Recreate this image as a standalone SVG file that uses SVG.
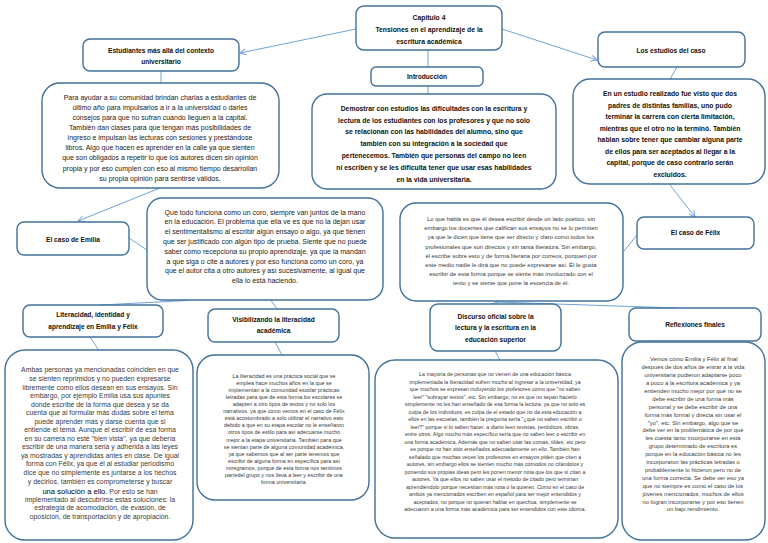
<svg xmlns="http://www.w3.org/2000/svg" width="768" height="543" viewBox="0 0 768 543">
<style>
.box{fill:#ffffff;stroke:#41719c;stroke-width:1.4}
.con{fill:none;stroke:#6fa3d8;stroke-width:1}
text{font-family:"Liberation Sans",Arial,sans-serif;text-anchor:middle}
.h{font-weight:bold;font-size:6.6px;fill:#111}
.hb{font-weight:bold;font-size:6.8px;fill:#111}
.t7{font-size:7px;fill:#1a1a1a}
.tg{font-size:5.9px;fill:#3a3a3a}
.ta{font-size:6.9px;fill:#3a3a3a}
.tl{font-size:5.4px;fill:#3a3a3a}
.tm{font-size:5.3px;fill:#3a3a3a}
.tv{font-size:5.8px;fill:#3a3a3a}
</style>
<defs>
<marker id="arr" markerWidth="8" markerHeight="8" refX="7" refY="4" orient="auto" markerUnits="userSpaceOnUse">
<path d="M1,1 L7,4 L1,7" fill="none" stroke="#6fa3d8" stroke-width="1"/>
</marker>
</defs>
<rect width="768" height="543" fill="#ffffff"/>
<g id="connectors">
<line class="con" x1="356" y1="29" x2="240" y2="53" marker-end="url(#arr)"/>
<line class="con" x1="502" y1="29" x2="597" y2="60" marker-end="url(#arr)"/>
<line class="con" x1="428" y1="50" x2="428" y2="67"/>
<line class="con" x1="428" y1="86" x2="428" y2="94"/>
<line class="con" x1="161" y1="71" x2="161" y2="83"/>
<line class="con" x1="160" y1="188" x2="78" y2="221" marker-end="url(#arr)"/>
<line class="con" x1="129" y1="238" x2="147" y2="250"/>
<line class="con" x1="187" y1="300.5" x2="100" y2="305"/>
<line class="con" x1="270" y1="299" x2="277" y2="309"/>
<line class="con" x1="90" y1="337" x2="100" y2="352"/>
<line class="con" x1="275" y1="342" x2="282" y2="355"/>
<line class="con" x1="495" y1="351" x2="500" y2="360"/>
<line class="con" x1="677" y1="67" x2="670" y2="79"/>
<line class="con" x1="670" y1="185" x2="695" y2="217" marker-end="url(#arr)"/>
<line class="con" x1="637" y1="235" x2="624" y2="251"/>
<line class="con" x1="500" y1="301" x2="492" y2="304"/>
<line class="con" x1="495" y1="302" x2="678" y2="308"/>
</g>
<g id="capitulo">
<rect class="box" x="356" y="6" width="146" height="44" rx="8"/>
<text class="hb" x="429" y="19.5">Capitulo 4</text>
<text class="hb" x="429" y="31.5">Tensiones en el aprendizaje de la</text>
<text class="hb" x="429" y="43.5">escritura académica</text>
</g>
<g id="estudiantes">
<rect class="box" x="83" y="39" width="156" height="32" rx="7"/>
<text class="h" x="161" y="53">Estudiantes más allá del contexto</text>
<text class="h" x="161" y="64">universitario</text>
</g>
<g id="introduccion">
<rect class="box" x="371" y="67" width="112" height="19" rx="5"/>
<text class="h" x="427" y="79">Introducción</text>
</g>
<g id="estudios-caso">
<rect class="box" x="598" y="32" width="147" height="35" rx="7"/>
<text class="h" x="671" y="52.5">Los estudios del caso</text>
</g>
<g id="para-ayudar">
<rect class="box" x="42" y="83" width="237" height="105" rx="18"/>
<text class="t7" x="160" y="99.8">Para ayudar a su comunidad brindan charlas a estudiantes de</text>
<text class="t7" x="160" y="109.9">último año para impulsarlos a ir a la universidad o darles</text>
<text class="t7" x="160" y="120">consejos para que no sufran cuando lleguen a la capital.</text>
<text class="t7" x="160" y="130.1">También dan clases para que tengan más posibilidades de</text>
<text class="t7" x="160" y="140.2">ingreso e impulsan las lecturas con sesiones y prestándose</text>
<text class="t7" x="160" y="150.3">libros. Algo que hacen es aprender en la calle ya que sienten</text>
<text class="t7" x="160" y="160.4">que son obligados a repetir lo que los autores dicen sin opinión</text>
<text class="t7" x="160" y="170.5">propia y por eso cumplen con eso al mismo tiempo desarrollan</text>
<text class="t7" x="160" y="180.6">su propia opinión para sentirse válidos.</text>
</g>
<g id="demostrar">
<rect class="box" x="312" y="94" width="244" height="95" rx="15"/>
<text class="hb" x="434" y="110.7">Demostrar con estudios las dificultades con la escritura y</text>
<text class="hb" x="434" y="122.5">lectura de los estudiantes con los profesores y que no solo</text>
<text class="hb" x="434" y="134.3">se relacionan con las habilidades del alumno, sino que</text>
<text class="hb" x="434" y="146.1">también con su integración a la sociedad que</text>
<text class="hb" x="434" y="157.9">pertenecemos. También que personas del campo no leen</text>
<text class="hb" x="434" y="169.7">ni escriben y se les dificulta tener que usar esas habilidades</text>
<text class="hb" x="434" y="181.5">en la vida universitaria.</text>
</g>
<g id="en-un-estudio">
<rect class="box" x="573" y="79" width="192" height="105" rx="17"/>
<text class="hb" x="670" y="96.4">En un estudio realizado fue visto que dos</text>
<text class="hb" x="670" y="107.9">padres de distintas familias, uno pudo</text>
<text class="hb" x="670" y="119.4">terminar la carrera con cierta limitación,</text>
<text class="hb" x="670" y="130.9">mientras que el otro no la terminó. También</text>
<text class="hb" x="670" y="142.4">hablan sobre tener que cambiar alguna parte</text>
<text class="hb" x="670" y="153.9">de ellos para ser aceptados al llegar a la</text>
<text class="hb" x="670" y="165.4">capital, porque de caso contrario serán</text>
<text class="hb" x="670" y="176.9">excluidos.</text>
</g>
<g id="caso-emilia">
<rect class="box" x="17" y="222" width="112" height="33" rx="7"/>
<text class="h" x="73" y="242.3">El caso de Emilia</text>
</g>
<g id="que-todo">
<rect class="box" x="147" y="198" width="236" height="102" rx="15"/>
<text class="t7" x="265" y="214.5">Que todo funciona como un coro, siempre van juntos de la mano</text>
<text class="t7" x="265" y="224.3">en la educación. El problema que ella ve es que no la dejan usar</text>
<text class="t7" x="265" y="234.1">el sentimentalismo al escribir algún ensayo o algo, ya que tienen</text>
<text class="t7" x="265" y="243.9">que ser justificado con algún tipo de prueba. Siente que no puede</text>
<text class="t7" x="265" y="253.7">saber cómo recepciona su propio aprendizaje, ya que la mandan</text>
<text class="t7" x="265" y="263.5">a que siga o cite a autores y por eso funciona como un coro, ya</text>
<text class="t7" x="265" y="273.3">que el autor cita a otro autores y así sucesivamente, al igual que</text>
<text class="t7" x="265" y="283.1">ella lo está haciendo.</text>
</g>
<g id="lo-que-habla">
<rect class="box" x="400" y="203" width="223" height="98" rx="16"/>
<text class="tg" x="511" y="221">Lo que habla es que él desea escribir desde un lado poético, sin</text>
<text class="tg" x="511" y="230.2">embargo los docentes que califican sus ensayos no se lo permiten</text>
<text class="tg" x="511" y="239.4">ya que le dicen que tiene que ser directo y claro como todos los</text>
<text class="tg" x="511" y="248.6">profesionales que son directos y sin tanta literatura. Sin embargo,</text>
<text class="tg" x="511" y="257.8">él escribe sobre esto y de forma literaria por correos, porquen por</text>
<text class="tg" x="511" y="267">este medio nadie le dirá que no puede expresarse así. Él le gusta</text>
<text class="tg" x="511" y="276.2">escribir de esta forma porque se siente más involucrado con el</text>
<text class="tg" x="511" y="285.4">texto y se siente que pone la escencia de él.</text>
</g>
<g id="caso-felix">
<rect class="box" x="637" y="217" width="117" height="32" rx="7"/>
<text class="h" x="695.5" y="235">El caso de Félix</text>
</g>
<g id="literacidad-identidad">
<rect class="box" x="23" y="305" width="140" height="32" rx="7"/>
<text class="h" x="93" y="317.3">Literacidad, identidad y</text>
<text class="h" x="93" y="328.5">aprendizaje en Emilia y Félix</text>
</g>
<g id="visibilizando">
<rect class="box" x="208" y="309" width="131" height="33" rx="7"/>
<text class="h" x="273.5" y="321.5">Visibilizando la literacidad</text>
<text class="h" x="273.5" y="332.5">académica</text>
</g>
<g id="discurso">
<rect class="box" x="430" y="304" width="131" height="47" rx="8"/>
<text class="h" x="495.5" y="318.5">Discurso oficial sobre la</text>
<text class="h" x="495.5" y="330">lectura y la escritura en la</text>
<text class="h" x="495.5" y="341.5">educación superior</text>
</g>
<g id="reflexiones">
<rect class="box" x="629" y="308" width="132" height="33" rx="7"/>
<text class="h" x="695" y="326.7">Reflexiones finales</text>
</g>
<g id="ambas">
<rect class="box" x="5" y="350" width="188" height="190" rx="20"/>
<text class="ta" x="100" y="372.4">Ambas personas ya mencionadas coinciden en que</text>
<text class="ta" x="100" y="380.95">se sienten reprimidos y no pueden expresarse</text>
<text class="ta" x="100" y="389.5">libremente como ellos desean en sus ensayos. Sin</text>
<text class="ta" x="100" y="398.05">embargo, por ejemplo Emilia usa sus apuntes</text>
<text class="ta" x="100" y="406.6">donde escribe de la forma que desea y se da</text>
<text class="ta" x="100" y="415.15">cuenta que al formular más dudas sobre el tema</text>
<text class="ta" x="100" y="423.7">puede aprender más y darse cuenta que si</text>
<text class="ta" x="100" y="432.25">entiende el tema. Aunque el escribir de esa forma</text>
<text class="ta" x="100" y="440.8">en su carrera no esté "bien vista", ya que debería</text>
<text class="ta" x="100" y="449.35">escribir de una manera seria y adherida a  las leyes</text>
<text class="ta" x="100" y="457.9">ya mostradas y aprendidas antes en clase. De igual</text>
<text class="ta" x="100" y="466.45">forma con Félix, ya que él al estudiar periodismo</text>
<text class="ta" x="100" y="475">dice que no simplemente es juntarse a los hechos</text>
<text class="ta" x="100" y="483.55">y decirlos, también es comprometerse y buscar</text>
<text class="ta" x="100" y="493.5"><tspan font-size="7.6" fill="#000">una solución a ello.</tspan> Por esto se han</text>
<text class="ta" x="100" y="501.8">implementado al descubrirse estas soluciones: la</text>
<text class="ta" x="100" y="510.35">estrategia de acomodación, de evasión, de</text>
<text class="ta" x="100" y="518.9">oposición, de transportación y de apropiación.</text>
</g>
<g id="la-literacidad">
<rect class="box" x="197" y="355" width="172" height="145" rx="18"/>
<text class="tl" x="284" y="377.6">La literacidad es una práctica social que se</text>
<text class="tl" x="284" y="384.7">emplea hace muchos años en la que se</text>
<text class="tl" x="284" y="391.8">implementan a la comunidad escolar prácticas</text>
<text class="tl" x="284" y="398.9">letradas para que de esta forma los escolares se</text>
<text class="tl" x="284" y="406">adapten a otro tipos de textos y no solo los</text>
<text class="tl" x="284" y="413.1">narrativos, ya que como vemos en el caso de Félix</text>
<text class="tl" x="284" y="420.2">está acostumbrado a solo utilizar el narrativo esto</text>
<text class="tl" x="284" y="427.3">debido a que en su etapa escolar no le enseñaron</text>
<text class="tl" x="284" y="434.4">otros tipos de estilo para así adecuarse mucho</text>
<text class="tl" x="284" y="441.5">mejor a la etapa universitaria. También para que</text>
<text class="tl" x="284" y="448.6">se sientan parte de alguna comunidad académica,</text>
<text class="tl" x="284" y="455.7">ya que sabemos que al ser parte tenemos que</text>
<text class="tl" x="284" y="462.8">escribir de alguna forma en específica para así</text>
<text class="tl" x="284" y="469.9">intregramos, porque de esta forma nos sentimos</text>
<text class="tl" x="284" y="477">partedel grupo y nos lleva a leer y escribir de una</text>
<text class="tl" x="284" y="484.1">forma universitaria.</text>
</g>
<g id="la-mayoria">
<rect class="box" x="375" y="360" width="243" height="178" rx="20"/>
<text class="tm" x="495" y="376.2">La mayoría de personas que no vienen de una educación básica</text>
<text class="tm" x="495" y="383.7">implementada la literacidad sufren mucho al ingresar a la universidad, ya</text>
<text class="tm" x="495" y="391.2">que muchos se expresan incluyendo los profesores como que "no saben</text>
<text class="tm" x="495" y="398.7">leer" "subrayar textos", etc. Sin embargo, no es que no sepan hacerlo</text>
<text class="tm" x="495" y="406.2">simplemente no les han enseñado de esa forma la lectura, ya que no solo es</text>
<text class="tm" x="495" y="413.7">culpa de los individuos, es culpa de el estado que no da esta educación a</text>
<text class="tm" x="495" y="421.2">ellos en las escuelas, también la pregunta sería "¿qué no saben escribir o</text>
<text class="tm" x="495" y="428.7">leer?" porque si lo saben hacer, a diario leen revistas, periódicos, obras,</text>
<text class="tm" x="495" y="436.2">entre otros. Algo mucho más específico sería que no saben leer o escribir en</text>
<text class="tm" x="495" y="443.7">una forma académica. Además que no saben usar las comas, tildes, etc pero</text>
<text class="tm" x="495" y="451.2">es porque no han sido enseñados adecuadamente en ello. También han</text>
<text class="tm" x="495" y="458.7">señalado que muchas veces los profesores en ensayos piden que citen a</text>
<text class="tm" x="495" y="466.2">autores, sin embargo ellos se sienten mucho más cómodos no citándolos y</text>
<text class="tm" x="495" y="473.7">poniendo sus propias ideas pero les ponen menor nota que los que sí citan a</text>
<text class="tm" x="495" y="481.2">autores. Ya que ellos no saben usar el método de citado pero terminan</text>
<text class="tm" x="495" y="488.7">aprendiéndolo porque necesitan más nota o la quieren. Como en el caso de</text>
<text class="tm" x="495" y="496.2">ambos ya mencionados escriben en español para ser mejor entendidos y</text>
<text class="tm" x="495" y="503.7">aceptados, no porque no quieran hablar en quechua, simplemente se</text>
<text class="tm" x="495" y="511.2">adecuaron a una forma más académica para ser entendidos con este idioma.</text>
</g>
<g id="vemos">
<rect class="box" x="622" y="342" width="143" height="198" rx="20"/>
<text class="tv" x="693" y="361.3">.Vemos cómo Emilia y Félix al final</text>
<text class="tv" x="693" y="369.2">después de dos años de entrar a la vida</text>
<text class="tv" x="693" y="377.1">universitaria pudieron adaptarse poco</text>
<text class="tv" x="693" y="385">a poco a la escritura académica y ya</text>
<text class="tv" x="693" y="392.9">entienden mucho mejor por qué no se</text>
<text class="tv" x="693" y="400.8">debe escribir de una forma más</text>
<text class="tv" x="693" y="408.7">personal y se debe escribir de una</text>
<text class="tv" x="693" y="416.6">forma más formal y directa sin usar el</text>
<text class="tv" x="693" y="424.5">"yo", etc. Sin embargo, algo que se</text>
<text class="tv" x="693" y="432.4">debe ver en la problemática de por qué</text>
<text class="tv" x="693" y="440.3">les cuesta tanto incorporarse en esta</text>
<text class="tv" x="693" y="448.2">grupo determinado de escritura es</text>
<text class="tv" x="693" y="456.1">porque en la educación básica no les</text>
<text class="tv" x="693" y="464">incorporaron las prácticas letradas o</text>
<text class="tv" x="693" y="471.9">probablemente lo hicieron pero no de</text>
<text class="tv" x="693" y="479.8">una forma correcta. Se debe ver eso ya</text>
<text class="tv" x="693" y="487.7">que no siempre es como el caso de los</text>
<text class="tv" x="693" y="495.6">jóvenes mencionados, muchos de ellos</text>
<text class="tv" x="693" y="503.5">no logran incorporarse y por eso tienen</text>
<text class="tv" x="693" y="511.4">un bajo rendimiento.</text>
</g>
</svg>
